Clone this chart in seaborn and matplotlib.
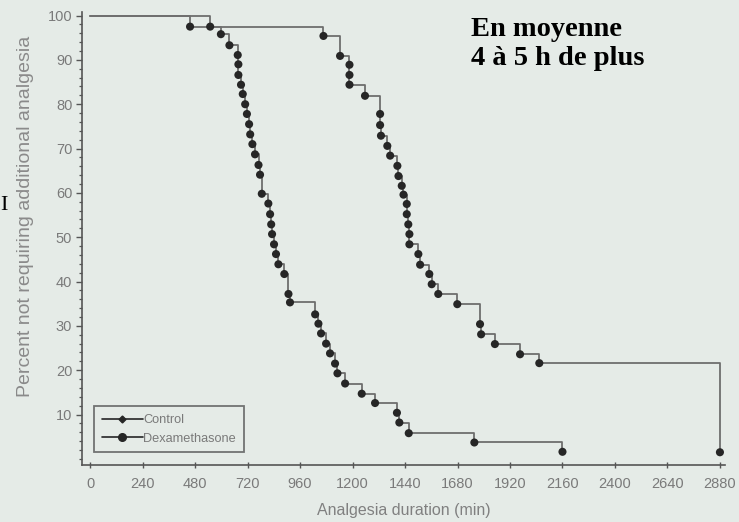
import matplotlib
matplotlib.use("Agg")
import matplotlib.pyplot as plt
from matplotlib.lines import Line2D
from matplotlib.ticker import MultipleLocator
import seaborn as sns
import pandas as pd

# ---- data ----
ctrl_time = [0, 457, 598, 637, 675, 678, 678, 690, 698, 709, 717, 727, 732, 742, 754,
             770, 777, 785, 815, 823, 828, 832, 841, 850, 861, 888, 907, 914, 1029,
             1044, 1056, 1079, 1097, 1120, 1131, 1166, 1242, 1303, 1403, 1414, 1457,
             1757, 2160]
ctrl_pct = [100, 97.5, 95.8, 93.3, 91.1, 89.0, 86.6, 84.4, 82.3, 80.0, 77.8, 75.5,
            73.2, 71.0, 68.7, 66.3, 64.1, 59.8, 57.6, 55.2, 52.9, 50.7, 48.4, 46.2,
            43.9, 41.7, 37.2, 35.3, 32.6, 30.5, 28.3, 26.0, 23.8, 21.5, 19.3, 17.0,
            14.7, 12.6, 10.4, 8.2, 5.8, 3.7, 1.6]

dex_time = [0, 549, 1067, 1143, 1186, 1186, 1186, 1257, 1326, 1326, 1330, 1359, 1372,
            1405, 1410, 1425, 1433, 1448, 1448, 1455, 1460, 1460, 1501, 1509, 1551,
            1562, 1592, 1679, 1783, 1788, 1851, 1966, 2054, 2880]
dex_pct = [100, 97.5, 95.4, 90.9, 88.9, 86.6, 84.4, 81.9, 77.8, 75.3, 72.9, 70.6,
           68.4, 66.1, 63.8, 61.6, 59.6, 57.5, 55.2, 52.9, 50.7, 48.4, 46.2, 43.8,
           41.7, 39.4, 37.2, 34.9, 30.4, 28.1, 25.9, 23.6, 21.6, 1.5]

groups = ["Control", "Dexamethasone"]
x_ticks = [0, 240, 480, 720, 960, 1200, 1440, 1680, 1920, 2160, 2400, 2640, 2880]
y_ticks = [10, 20, 30, 40, 50, 60, 70, 80, 90, 100]
x_label = "Analgesia duration (min)"
y_label = "Percent not requiring additional analgesia"
note = "En moyenne\n4 à 5 h de plus"

# ---- build table ----
df = pd.concat([
    pd.DataFrame({"time": ctrl_time, "pct": ctrl_pct, "group": groups[0],
                  "order": range(len(ctrl_time))}),
    pd.DataFrame({"time": dex_time, "pct": dex_pct, "group": groups[1],
                  "order": range(len(dex_time))}),
], ignore_index=True)

bg = "#e5ebe7"
sns.set_theme(style="ticks")
plt.rcParams["font.family"] = ["Liberation Sans", "DejaVu Sans"]

fig = plt.figure(figsize=(7.39, 5.22), dpi=100, facecolor=bg)
ax = fig.add_axes([0.111, 0.109, 0.870, 0.868])
ax.set_facecolor(bg)

line_col = "#6e6e6e"
mark_col = "#262626"
pal = {groups[0]: line_col, groups[1]: line_col}

sns.lineplot(data=df, x="time", y="pct", hue="group", palette=pal, estimator=None,
             sort=False, drawstyle="steps-post", linewidth=1.3, legend=False, ax=ax)
pts = df[df["order"] > 0]
sns.scatterplot(data=pts, x="time", y="pct", hue="group",
                palette={groups[0]: mark_col, groups[1]: mark_col},
                s=34, linewidth=0, legend=False, ax=ax, zorder=3)

ax.set_xlim(-37, 2903)
ax.set_ylim(-1.4, 100.8)
ax.set_xticks(x_ticks)
ax.set_yticks(y_ticks)
ax.yaxis.set_minor_locator(MultipleLocator(2))
tick_col = "#7a7a7a"
ax.tick_params(axis="both", which="major", labelsize=10.5, labelcolor=tick_col,
               color="#555555", length=4, width=1)
ax.tick_params(axis="x", direction="inout", length=5, pad=6)
ax.tick_params(axis="y", pad=3)
ax.tick_params(axis="y", which="minor", length=2.5, width=0.9, color="#555555")
for s in ["top", "right"]:
    ax.spines[s].set_visible(False)
for s in ["left", "bottom"]:
    ax.spines[s].set_color("#555555")
    ax.spines[s].set_linewidth(1.2)

ax.set_xlabel(x_label, fontsize=11.5, color="#808080", labelpad=9)
ax.set_ylabel(y_label, fontsize=14, color="#8a8a8a")
ax.yaxis.set_label_coords(-0.074, 0.55)

handles = [
    Line2D([0], [0], color=mark_col, lw=1.2, marker="D", markersize=3.5),
    Line2D([0], [0], color=mark_col, lw=1.2, marker="o", markersize=5.5),
]
leg = ax.legend(handles, groups, loc="lower left", bbox_to_anchor=(0.013, 0.02),
                fontsize=9.2, frameon=True, fancybox=False, handlelength=3.2,
                handletextpad=0.05, borderpad=0.6, labelspacing=0.5,
                borderaxespad=0.3)
leg.get_frame().set_edgecolor("#555555")
leg.get_frame().set_linewidth(1.3)
leg.get_frame().set_facecolor(bg)
for t in leg.get_texts():
    t.set_color("#7a7a7a")

fig.text(471 / 739, 1 - 17 / 522, note, fontsize=20.5, fontweight="bold",
         family=["Liberation Serif", "DejaVu Serif"], color="black",
         ha="left", va="top", linespacing=1.2)
fig.text(0.0005, 1 - 205 / 522, "I", fontsize=16,
         family=["Liberation Serif", "DejaVu Serif"], color="black",
         ha="left", va="center")

fig.savefig("out.png", dpi=100, facecolor=bg)
